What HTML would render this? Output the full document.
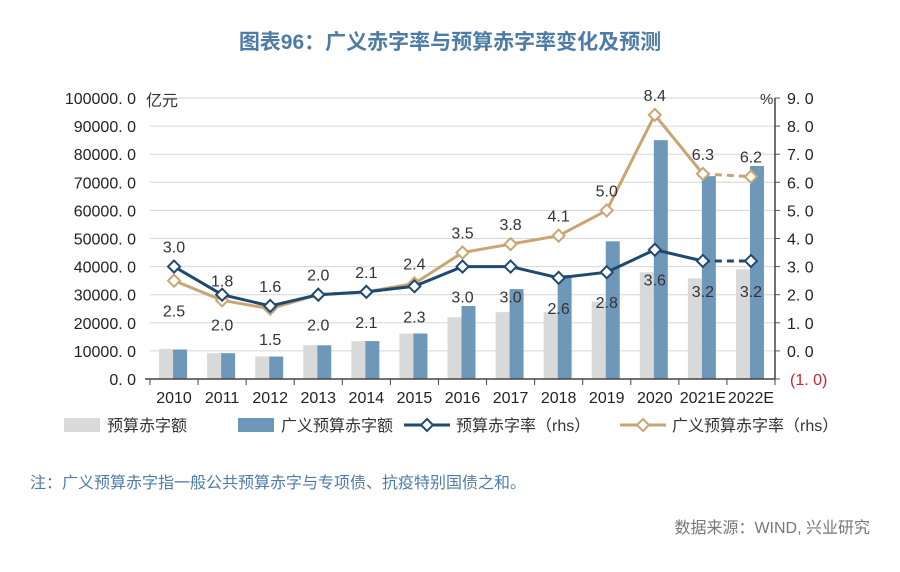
<!DOCTYPE html>
<html><head><meta charset="utf-8"><style>
body{margin:0;background:#fff;}
svg text{font-family:"Liberation Sans","Noto Sans CJK SC",sans-serif;}
</style></head><body>
<svg width="900" height="567" viewBox="0 0 900 567" xmlns="http://www.w3.org/2000/svg">
<text x="450" y="49" text-anchor="middle" font-size="21" font-weight="bold" fill="#4f7ca6">图表96：广义赤字率与预算赤字率变化及预测</text>
<g id="grid"></g><g id="bars"></g><g id="lines"></g><g id="axes"></g><g id="labels"></g>
<g font-size="16" fill="#333">
<rect x="64" y="418" width="36" height="14" fill="#d9d9d9"/>
<text x="107" y="431" fill="#333">预算赤字额</text>
<rect x="238" y="418" width="36" height="14" fill="#6e98ba"/>
<text x="281" y="431" fill="#333">广义预算赤字额</text>
<line x1="404" y1="425" x2="450" y2="425" stroke="#1f4a70" stroke-width="3"/>
<path d="M427 419 L433 425 L427 431 L421 425 Z" fill="#fff" stroke="#1f4a70" stroke-width="2"/>
<text x="456" y="431" fill="#333">预算赤字率（rhs）</text>
<line x1="620" y1="425" x2="666" y2="425" stroke="#c9a574" stroke-width="3"/>
<path d="M643 419 L649 425 L643 431 L637 425 Z" fill="#fff" stroke="#c9a574" stroke-width="2"/>
<text x="672" y="431" fill="#333">广义预算赤字率（rhs）</text>
</g>
<text x="30" y="488" font-size="16" fill="#4f7ca6">注：广义预算赤字指一般公共预算赤字与专项债、抗疫特别国债之和。</text>
<text x="870" y="533" text-anchor="end" font-size="16" fill="#777">数据来源：WIND, 兴业研究</text>
</svg>
<script>
const categories=["2010","2011","2012","2013","2014","2015","2016","2017","2018","2019","2020","2021E","2022E"];
const budgetDeficit=[10700,9200,8000,12000,13500,16200,22000,23800,23800,27600,38000,35800,39000];
const broadDeficit=[10500,9200,8000,12000,13500,16200,26000,32000,37000,49000,85000,72200,75800];
const budgetRate=[3.0,2.0,1.6,2.0,2.1,2.3,3.0,3.0,2.6,2.8,3.6,3.2,3.2];
const broadRate=[2.5,1.8,1.5,2.0,2.1,2.4,3.5,3.8,4.1,5.0,8.4,6.3,6.2];
const budgetRateLabelPos=["a","b","a","a","a","b","b","b","b","b","b","b","b"];
const broadRateLabelPos=["b","a","b","b","b","a","a","a","a","a","a","a","a"];
const leftTicks=[0,10000,20000,30000,40000,50000,60000,70000,80000,90000,100000];
const rightTicks=[-1,0,1,2,3,4,5,6,7,8,9];

const NS="http://www.w3.org/2000/svg";
const X0=150,X1=775,YT=98,YB=379;
const bw=(X1-X0)/categories.length;
const xc=i=>X0+bw*(i+0.5);
const yL=v=>YB-(v/100000)*(YB-YT);
const yR=v=>YB-((v+1)/10)*(YB-YT);
function mk(tag,attrs,parent,text){const e=document.createElementNS(NS,tag);for(const k in attrs)e.setAttribute(k,attrs[k]);if(text!==undefined)e.textContent=text;document.getElementById(parent).appendChild(e);return e;}

leftTicks.forEach((t,i)=>{
  if(t>0){const g=mk("line",{x1:X0,x2:X1,y1:yL(t),y2:yL(t),stroke:"#d6d6d6","stroke-width":1},"grid");
  
  }
  const s=t.toFixed(1).replace(".",". ");
  const l=mk("text",{x:136,y:yL(t)+6,"text-anchor":"end","font-size":"16",fill:"#222"},"axes",s);
  
  
});
rightTicks.forEach(t=>{
  const s=t<0?"("+Math.abs(t).toFixed(1).replace(".",". ")+")":t.toFixed(1).replace(".",". ");
  const l=mk("text",{x:t<0?790:787,y:yR(t)+6,"font-size":"16",fill:t<0?"#c0282d":"#222"},"axes",s);
  
  
  const tk=mk("line",{x1:X1,x2:X1+5,y1:yR(t),y2:yR(t),stroke:"#555"},"axes");
  
  
});
const u1=mk("text",{x:146,y:106,"font-size":"16",fill:"#333"},"axes","亿元");


const u2=mk("text",{x:760,y:104,"font-size":"15",fill:"#333"},"axes","%");


const ax=mk("line",{x1:X0-5,x2:X1,y1:YB,y2:YB,stroke:"#444","stroke-width":1.5},"axes");


const ra=mk("line",{x1:X1,x2:X1,y1:YT,y2:YB,stroke:"#444","stroke-width":1.5},"axes");


const la=mk("line",{x1:X0,x2:X0,y1:YB,y2:YB+6,stroke:"#444"},"axes");
categories.forEach((c,i)=>{
  const tk=mk("line",{x1:X0+bw*(i+1),x2:X0+bw*(i+1),y1:YB,y2:YB+6,stroke:"#444"},"axes");
  
  
  const t=mk("text",{x:xc(i),y:403,"text-anchor":"middle","font-size":"16",fill:"#222"},"axes",c);
  
  
  const b1=mk("rect",{x:xc(i)-15,y:yL(budgetDeficit[i]),width:14,height:YB-yL(budgetDeficit[i]),fill:"#d9d9d9"},"bars");
  
  
  const b2=mk("rect",{x:xc(i)-1,y:yL(broadDeficit[i]),width:14,height:YB-yL(broadDeficit[i]),fill:"#6e98ba"},"bars");
  
  
});
function series(vals,color,pos,name){
  const n=vals.length;
  const solid=vals.slice(0,n-1).map((v,i)=>xc(i)+","+yR(v)).join(" ");
  const p=mk("polyline",{points:solid,fill:"none",stroke:color,"stroke-width":3},"lines");
  
  
  const d=mk("line",{x1:xc(n-2),y1:yR(vals[n-2]),x2:xc(n-1),y2:yR(vals[n-1]),stroke:color,"stroke-width":3,"stroke-dasharray":"7,5"},"lines");
  
  
  vals.forEach((v,i)=>{
    const x=xc(i),y=yR(v);
    const m=mk("path",{d:`M${x} ${y-6} L${x+6} ${y} L${x} ${y+6} L${x-6} ${y} Z`,fill:"#fff",stroke:color,"stroke-width":2},"lines");
    
    
    const ly=pos[i]==="a"?y-14:y+36;
    const t=mk("text",{x:x,y:ly,"text-anchor":"middle","font-size":"16",fill:"#333"},"labels",v.toFixed(1));
    
    
  });
}
series(broadRate,"#c9a574",broadRateLabelPos,"broad-rate");
series(budgetRate,"#1f4a70",budgetRateLabelPos,"budget-rate");
</script>
</body></html>
